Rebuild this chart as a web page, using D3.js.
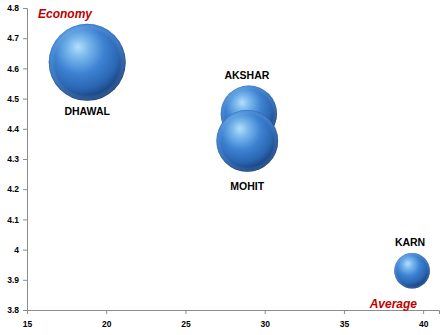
<!DOCTYPE html>
<html><head><meta charset="utf-8">
<script src="https://cdn.jsdelivr.net/npm/d3@7"></script>
<style>
html,body{margin:0;padding:0;background:#fff;}
svg{display:block;}
</style></head>
<body>
<script>
const players = ["DHAWAL", "AKSHAR", "MOHIT", "KARN"];
const average = [18.8, 29.0, 28.9, 39.3];
const economy = [4.62, 4.45, 4.36, 3.93];
const bubbleSize = [14, 7.5, 9, 3];
const labelSide = ["below", "above", "below", "above"];
const xTicks = [15, 20, 25, 30, 35, 40];
const yTicks = [3.8, 3.9, 4, 4.1, 4.2, 4.3, 4.4, 4.5, 4.6, 4.7, 4.8];
const xTitle = "Average";
const yTitle = "Economy";

const W = 448, H = 335;
const svg = d3.select("body").append("svg").attr("width", W).attr("height", H);

const x = d3.scaleLinear().domain([15, 41]).range([27, 439]);
const y = d3.scaleLinear().domain([3.8, 4.8]).range([310, 8]);
const r = d3.scaleSqrt().domain([0, 14]).range([0, 38.5]);

const defs = svg.append("defs");
const g1 = defs.append("radialGradient").attr("id", "sphere")
  .attr("cx", "0.42").attr("cy", "0.36").attr("r", "0.72")
  .attr("fx", "0.38").attr("fy", "0.3");
[[0, "#b4e0fb"], [0.18, "#7ab8ec"], [0.45, "#3d82d2"], [0.7, "#2a66b2"], [0.88, "#163f7a"], [1, "#0a2249"]]
  .forEach(([o, c]) => g1.append("stop").attr("offset", o).attr("stop-color", c));
const g2 = defs.append("radialGradient").attr("id", "rim")
  .attr("cx", "0.5").attr("cy", "0.5").attr("r", "0.5");
[[0, "#ffffff", 0], [0.85, "#ffffff", 0], [0.97, "#6aa8e8", 0.25], [1, "#1a3f78", 0.3]]
  .forEach(([o, c, a]) => g2.append("stop").attr("offset", o).attr("stop-color", c).attr("stop-opacity", a));

// Axes
const xAxis = d3.axisBottom(x).tickValues(xTicks).tickSize(4).tickFormat(d3.format("d"));
const yAxis = d3.axisLeft(y).tickValues(yTicks).tickSize(4).tickFormat(d => d3.format("")(d));

const gx = svg.append("g").attr("transform", `translate(0,${y(3.8)})`).call(xAxis);
const gy = svg.append("g").attr("transform", `translate(${x(15)},0)`).call(yAxis);
[gx, gy].forEach(g => {
  g.select(".domain").attr("stroke", "#8c8c8c").attr("stroke-width", 1);
  g.selectAll(".tick line").attr("stroke", "#8c8c8c");
  g.selectAll(".tick text").attr("fill", "#000").attr("font-family", "Liberation Sans, Arial, sans-serif")
    .attr("font-weight", "bold").attr("font-size", "8.5px");
});
gx.selectAll(".tick text").attr("dy", "1.15em");
gy.selectAll(".tick text").attr("x", -8);

// Bubbles
const data = players.map((p, i) => ({ name: p, avg: average[i], eco: economy[i], size: bubbleSize[i], side: labelSide[i] }));
svg.append("g").selectAll("g.b").data(data).join("g").attr("class", "b")
  .each(function (d) {
    const g = d3.select(this);
    g.append("circle").attr("cx", x(d.avg)).attr("cy", y(d.eco)).attr("r", r(d.size)).attr("fill", "url(#sphere)");
    g.append("circle").attr("cx", x(d.avg)).attr("cy", y(d.eco)).attr("r", r(d.size)).attr("fill", "url(#rim)");
  });

const belowGap = { DHAWAL: 14, MOHIT: 18 };
svg.append("g").selectAll("text").data(data).join("text")
  .attr("x", d => x(d.avg) + (d.side === "below" ? 0 : -2))
  .attr("y", d => d.side === "below" ? y(d.eco) + r(d.size) + (belowGap[d.name] || 14) : y(d.eco) - r(d.size) - 7)
  .attr("text-anchor", "middle")
  .attr("font-family", "Liberation Sans, Arial, sans-serif")
  .attr("font-weight", "bold").attr("font-size", "10.5px").attr("fill", "#000")
  .text(d => d.name);

// Titles
svg.append("text").attr("x", 38).attr("y", 18)
  .attr("font-family", "Liberation Sans, Arial, sans-serif").attr("font-weight", "bold").attr("font-style", "italic")
  .attr("font-size", "12px").attr("fill", "#c00000").text(yTitle);
svg.append("text").attr("x", 417).attr("y", 308).attr("text-anchor", "end")
  .attr("font-family", "Liberation Sans, Arial, sans-serif").attr("font-weight", "bold").attr("font-style", "italic")
  .attr("font-size", "12px").attr("fill", "#c00000").text(xTitle);
</script>
</body></html>
